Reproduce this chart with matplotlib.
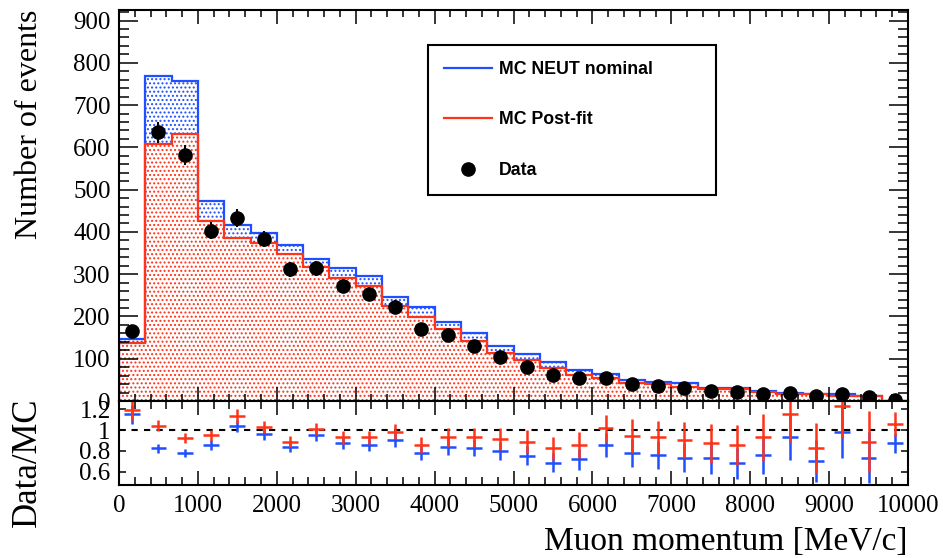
import matplotlib
matplotlib.use('Agg')
import matplotlib.pyplot as plt
from matplotlib.lines import Line2D
from matplotlib.ticker import MultipleLocator, FuncFormatter
import numpy as np

plt.rc('font', family='Liberation Serif')
plt.rc('hatch', linewidth=0.95)

# 30 bins of muon momentum, 0 - 10000 MeV/c
p_min, p_max, n_bins = 0, 10000, 30

# bin contents
mc_nominal = [146, 769, 756, 472, 417, 397, 370, 336, 314, 295,
              245, 223, 187, 160, 130, 111, 92, 73, 65, 50,
              45, 42, 30, 30, 24, 19, 17, 16, 13, 1]
mc_postfit = [138, 608, 632, 425, 385, 374, 347, 316, 292, 271,
              225, 199, 170, 142, 114, 96, 77, 62, 55, 42,
              40, 34, 28, 28, 21, 17, 16, 12, 12, 1]
data = [166, 636, 582, 403, 433, 383, 312, 314, 273, 253,
        223, 171, 156, 130, 104, 81, 62, 54, 54, 40,
        36, 30, 24, 21, 16, 20, 12, 17, 9, 2]

# Data/MC ratios and their relative errors
ratio_postfit = [1.19, 1.04, 0.927, 0.952, 1.134, 1.025, 0.889, 1.01, 0.93, 0.93,
                 0.984, 0.857, 0.93, 0.93, 0.914, 0.889, 0.825, 0.857, 1.016, 0.946,
                 0.93, 0.904, 0.873, 0.857, 0.93, 1.15, 0.825, 1.232, 0.889, 1.054]
ratio_nominal = [1.15, 0.825, 0.777, 0.857, 1.041, 0.962, 0.841, 0.952, 0.873, 0.857,
                 0.904, 0.777, 0.841, 0.831, 0.80, 0.755, 0.688, 0.72, 0.857, 0.783,
                 0.761, 0.736, 0.736, 0.682, 0.761, 0.93, 0.704, 0.978, 0.736, 0.873]
ratio_relerr = [0.08, 0.05, 0.05, 0.055, 0.055, 0.055, 0.06, 0.06, 0.065, 0.065,
                0.075, 0.085, 0.095, 0.10, 0.11, 0.12, 0.13, 0.14, 0.13, 0.17,
                0.17, 0.19, 0.21, 0.22, 0.24, 0.23, 0.29, 0.25, 0.33, 0.11]

BLUE = '#1f4fff'
RED = '#ff3318'

edges = np.linspace(p_min, p_max, n_bins + 1)
centers = 0.5 * (edges[1:] + edges[:-1])
width = edges[1] - edges[0]
nom = np.array(mc_nominal, float)
post = np.array(mc_postfit, float)
dat = np.array(data, float)
r_post = np.array(ratio_postfit)
r_nom = np.array(ratio_nominal)
rel = np.array(ratio_relerr)

fig = plt.figure(figsize=(9.43, 5.58), dpi=100)
W, H = 943., 558.
ax = fig.add_axes([119 / W, 1 - 401 / H, 789 / W, 391 / H])
axr = fig.add_axes([119 / W, 1 - 485 / H, 789 / W, 84 / H])

# --- top panel: histograms (dotted fills like ROOT style 3001)
ax.stairs(nom, edges, baseline=post, fill=True, facecolor='none',
          edgecolor=BLUE, linewidth=0, hatch='....')
ax.stairs(post, edges, baseline=0, fill=True, facecolor='none',
          edgecolor=RED, linewidth=0, hatch='....')
ax.stairs(nom, edges, baseline=0, color=BLUE, linewidth=1.6)
ax.stairs(post, edges, baseline=0, color=RED, linewidth=1.6)
ax.errorbar(centers, dat, yerr=np.sqrt(dat), fmt='o', color='black',
            markersize=9.5, elinewidth=1.5, capsize=0, zorder=5)

ax.set_xlim(p_min, p_max)
ax.set_ylim(0, 925)
ax.xaxis.set_major_locator(MultipleLocator(1000))
ax.xaxis.set_minor_locator(MultipleLocator(200))
ax.yaxis.set_major_locator(MultipleLocator(100))
ax.yaxis.set_minor_locator(MultipleLocator(20))
ax.tick_params(axis='both', which='both', direction='in', top=True, right=True,
               width=1.1, labelsize=18)
ax.tick_params(axis='y', which='major', length=14, pad=6)
ax.tick_params(axis='y', which='minor', length=7)
ax.tick_params(axis='x', which='major', length=10, labelbottom=False)
ax.tick_params(axis='x', which='minor', length=5)
for s in ax.spines.values():
    s.set_linewidth(1.5)
ax.set_ylabel('Number of events', fontsize=23, loc='top')
ax.yaxis.set_label_coords(-0.095, 1.0)

handles = [Line2D([], [], color=BLUE, linewidth=1.6),
           Line2D([], [], color=RED, linewidth=1.6),
           Line2D([], [], color='black', marker='o', linestyle='none', markersize=9.5)]
labels = ['MC NEUT nominal', 'MC Post-fit', 'Data']
leg_x0 = (428 - 119) / 789
leg_w = (716 - 428) / 789
leg_top = 1 - (45 - 10) / 391
leg = ax.legend(handles, labels, loc='upper left', mode='expand',
                bbox_to_anchor=(leg_x0, leg_top - 0.4, leg_w, 0.4),
                borderaxespad=0, frameon=True, fancybox=False, edgecolor='black',
                framealpha=1, handlelength=2.7, handletextpad=0.4,
                labelspacing=1.88, borderpad=0.9,
                prop={'family': 'Liberation Sans', 'weight': 'bold', 'size': 12.8})
leg.get_frame().set_linewidth(1.5)

# --- ratio panel
axr.axhline(1.0, color='black', linestyle=(0, (3, 3)), linewidth=1.5)
axr.errorbar(centers, r_nom, xerr=0.3 * width, yerr=r_nom * rel, fmt='none',
             ecolor=BLUE, elinewidth=1.8, capsize=0)
axr.errorbar(centers, r_post, xerr=0.3 * width, yerr=r_post * rel, fmt='none',
             ecolor=RED, elinewidth=1.8, capsize=0)
axr.set_xlim(p_min, p_max)
axr.set_ylim(0.475, 1.277)
axr.xaxis.set_major_locator(MultipleLocator(1000))
axr.xaxis.set_minor_locator(MultipleLocator(200))
axr.yaxis.set_major_locator(MultipleLocator(0.2))
axr.yaxis.set_major_formatter(FuncFormatter(lambda v, _: '%g' % round(v, 2)))
axr.tick_params(axis='both', which='both', direction='in', top=True, right=True,
                width=1.1, labelsize=18)
axr.tick_params(axis='x', which='major', length=10, pad=7)
axr.tick_params(axis='x', which='minor', length=6)
axr.tick_params(axis='y', which='major', length=5, pad=6)
for s in axr.spines.values():
    s.set_linewidth(1.5)
axr.set_ylabel('Data/MC', fontsize=25, loc='top')
axr.yaxis.set_label_coords(-0.095, 1.04)
axr.set_xlabel('Muon momentum [MeV/c]', fontsize=24, loc='right', labelpad=7)

fig.savefig('out.png', dpi=100)
